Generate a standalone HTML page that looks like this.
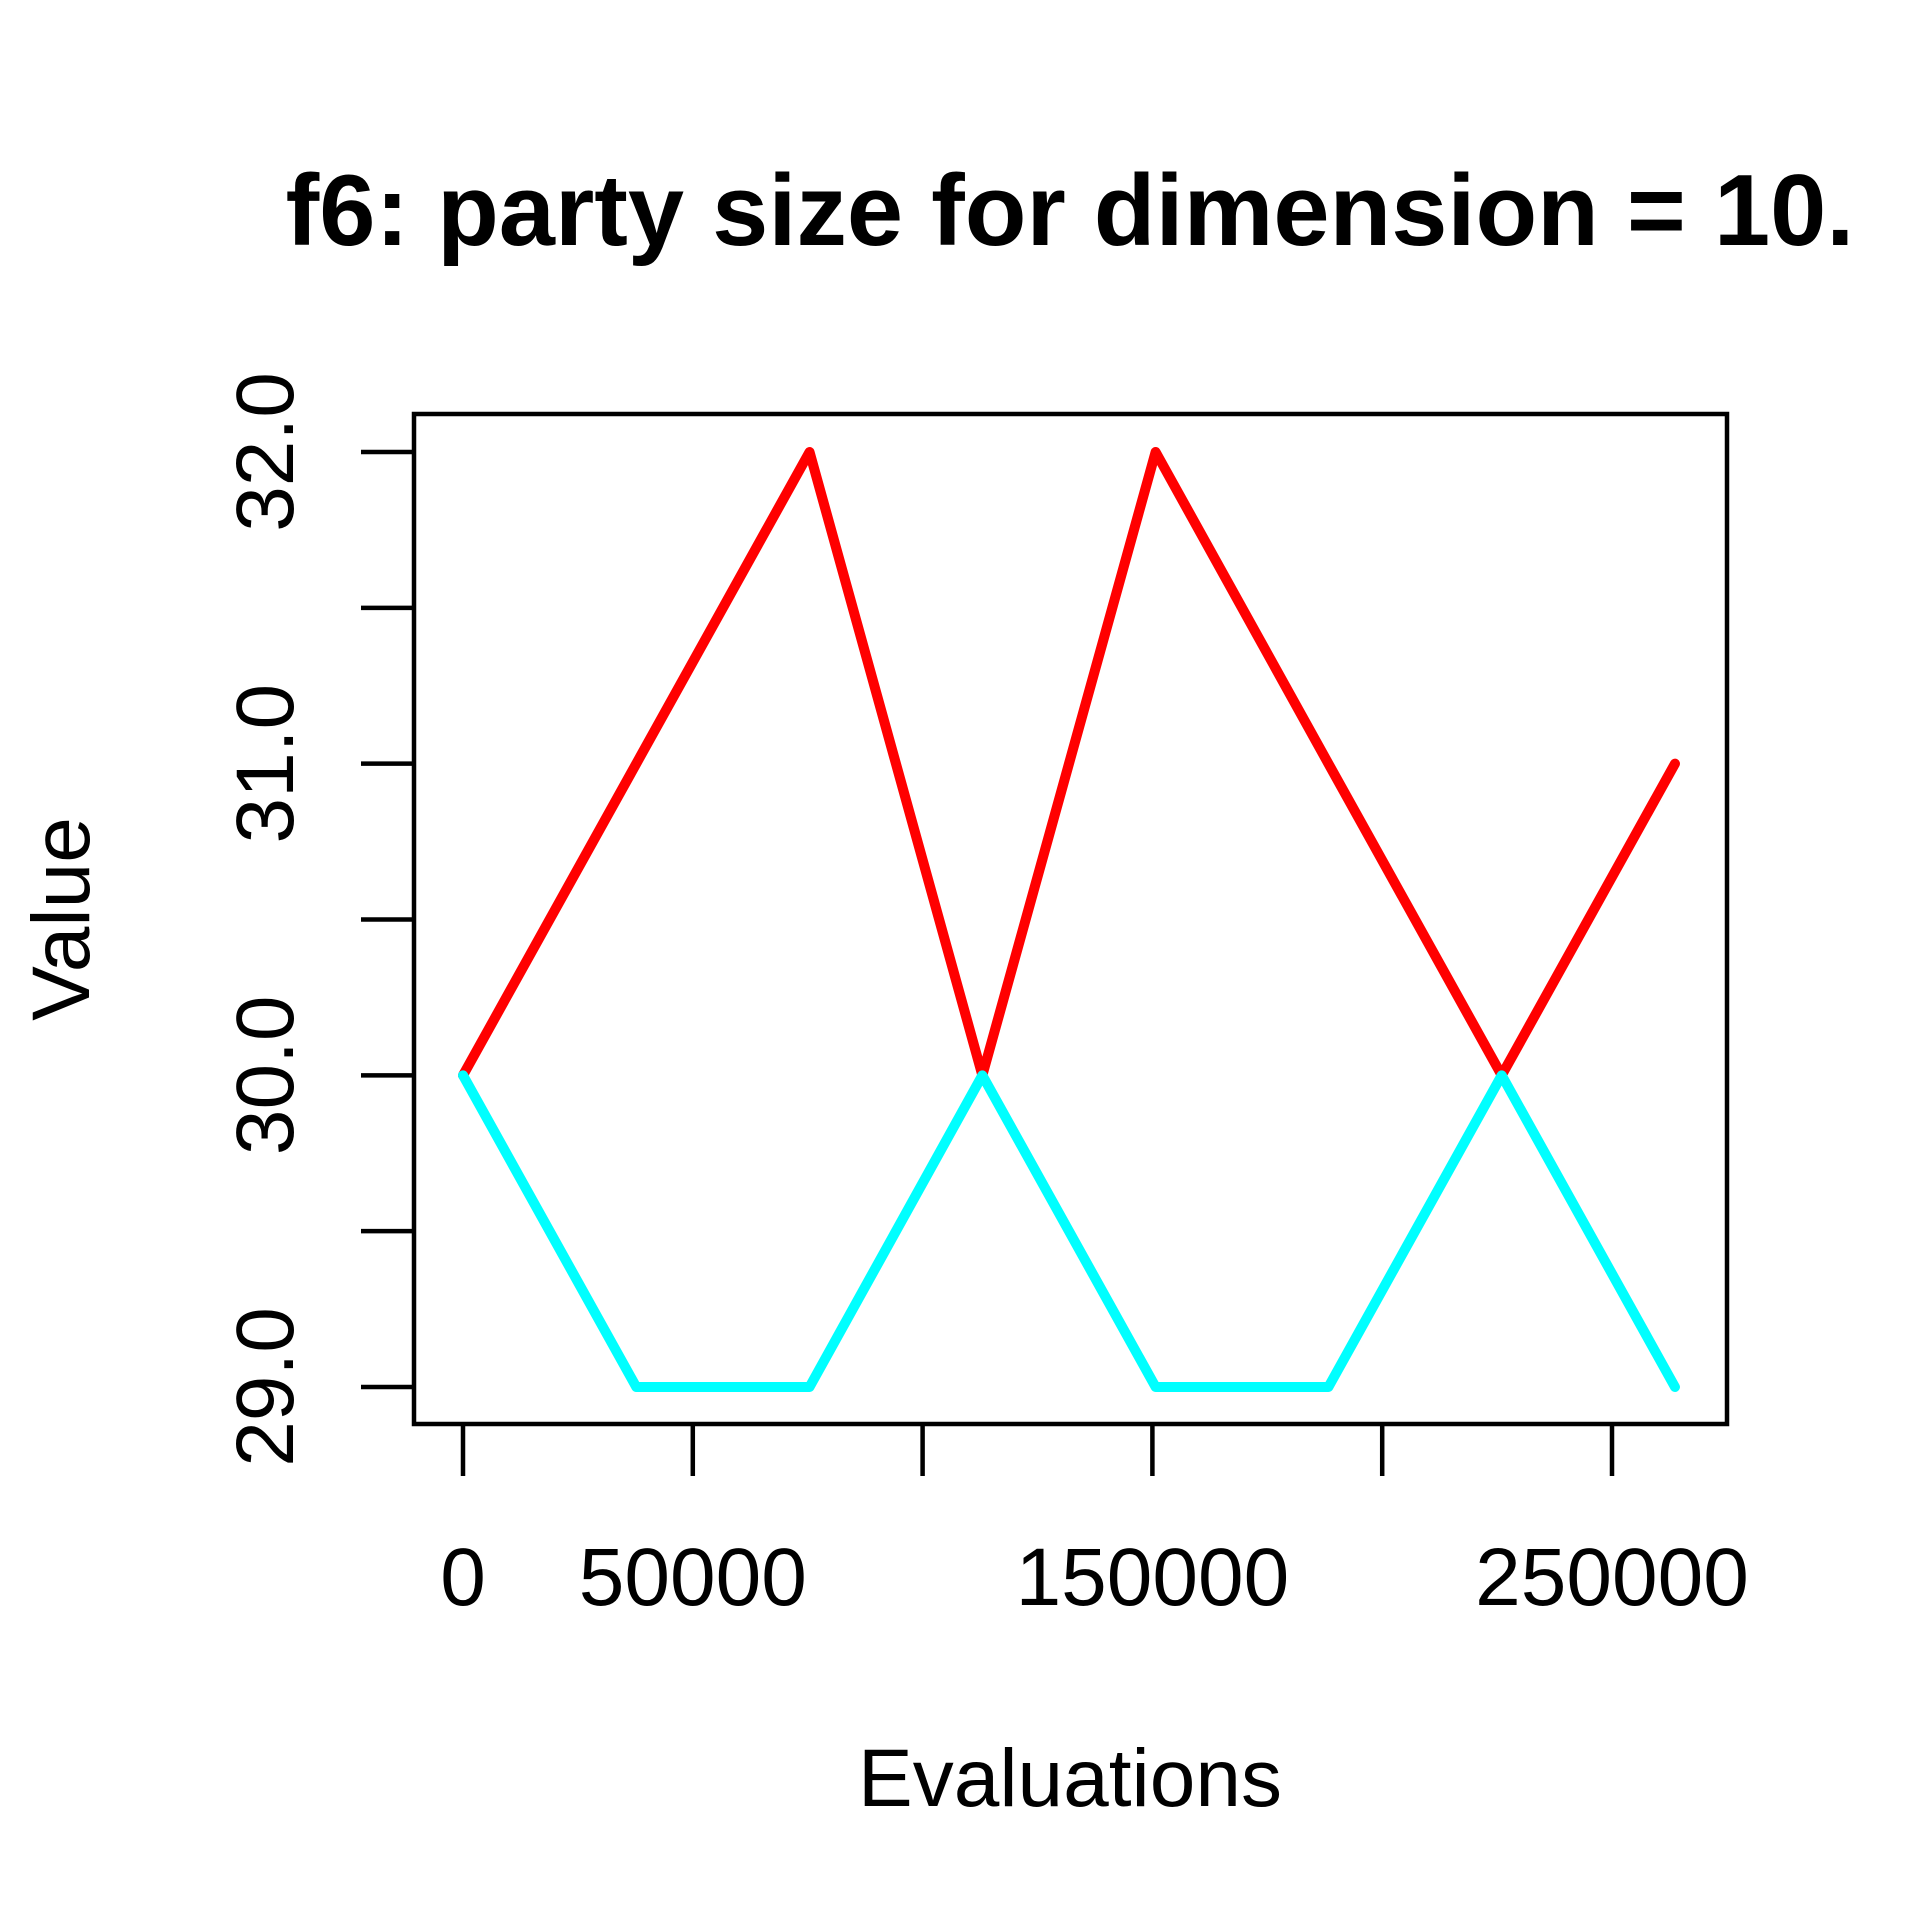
<!DOCTYPE html>
<html><head><meta charset="utf-8"><style>
html,body{margin:0;padding:0;background:#fff;}
svg{display:block;font-family:"Liberation Sans",sans-serif;}
</style></head><body>
<svg id="chart" width="1920" height="1920" viewBox="0 0 1920 1920">
<text x="1070" y="245" font-size="101" font-weight="bold" text-anchor="middle">f6: party size for dimension = 10.</text>
<rect x="414" y="414" width="1313" height="1010" fill="none" stroke="#000" stroke-width="4.5"/>
<g id="axes"></g>
<g id="series"></g>
<text x="1070" y="1806" font-size="82" text-anchor="middle">Evaluations</text>
<text transform="translate(89,919) rotate(-90)" font-size="82" text-anchor="middle">Value</text>
</svg>
<script>
const xValues=[0,37700,75400,113000,150700,188300,226000,263700];
const redValues=[30,31,32,30,32,31,30,31];
const cyanValues=[30,29,29,30,29,29,30,29];
const xTicks=[0,50000,100000,150000,200000,250000];
const xTickLabels=["0","50000","","150000","","250000"];
const yTicks=[29,29.5,30,30.5,31,31.5,32];
const yTickLabels=["29.0","","30.0","","31.0","","32.0"];
const NS="http://www.w3.org/2000/svg";
function X(v){return 463+v*(1612-463)/250000;}
function Y(v){return 1387-(v-29)*(1387-452)/3;}
const axes=document.getElementById('axes');
xTicks.forEach((t,i)=>{
 const l=document.createElementNS(NS,'line');
 l.setAttribute('x1',X(t));l.setAttribute('x2',X(t));l.setAttribute('y1',1424);l.setAttribute('y2',1476);
 l.setAttribute('stroke','#000');l.setAttribute('stroke-width','4.5');
 
 
 axes.appendChild(l);
 if(xTickLabels[i]){
  const tx=document.createElementNS(NS,'text');
  tx.setAttribute('x',X(t));tx.setAttribute('y',1605);tx.setAttribute('font-size','82');tx.setAttribute('text-anchor','middle');
  tx.textContent=xTickLabels[i];
  
  
  axes.appendChild(tx);
 }
});
yTicks.forEach((t,i)=>{
 const l=document.createElementNS(NS,'line');
 l.setAttribute('x1',361);l.setAttribute('x2',414);l.setAttribute('y1',Y(t));l.setAttribute('y2',Y(t));
 l.setAttribute('stroke','#000');l.setAttribute('stroke-width','4.5');
 
 
 axes.appendChild(l);
 if(yTickLabels[i]){
  const tx=document.createElementNS(NS,'text');
  tx.setAttribute('transform','translate(293,'+Y(t)+') rotate(-90)');
  tx.setAttribute('font-size','82');tx.setAttribute('text-anchor','middle');
  tx.textContent=yTickLabels[i];
  
  
  axes.appendChild(tx);
 }
});
const series=document.getElementById('series');
function line(vals,color,name){
 const p=document.createElementNS(NS,'polyline');
 p.setAttribute('points',vals.map((v,i)=>X(xValues[i])+','+Y(v)).join(' '));
 p.setAttribute('fill','none');p.setAttribute('stroke',color);p.setAttribute('stroke-width','10');
 p.setAttribute('stroke-linejoin','round');p.setAttribute('stroke-linecap','round');
 
 
 series.appendChild(p);
}
line(redValues,'#ff0000','red-series-line');
line(cyanValues,'#00ffff','cyan-series-line');
</script>
</body></html>
